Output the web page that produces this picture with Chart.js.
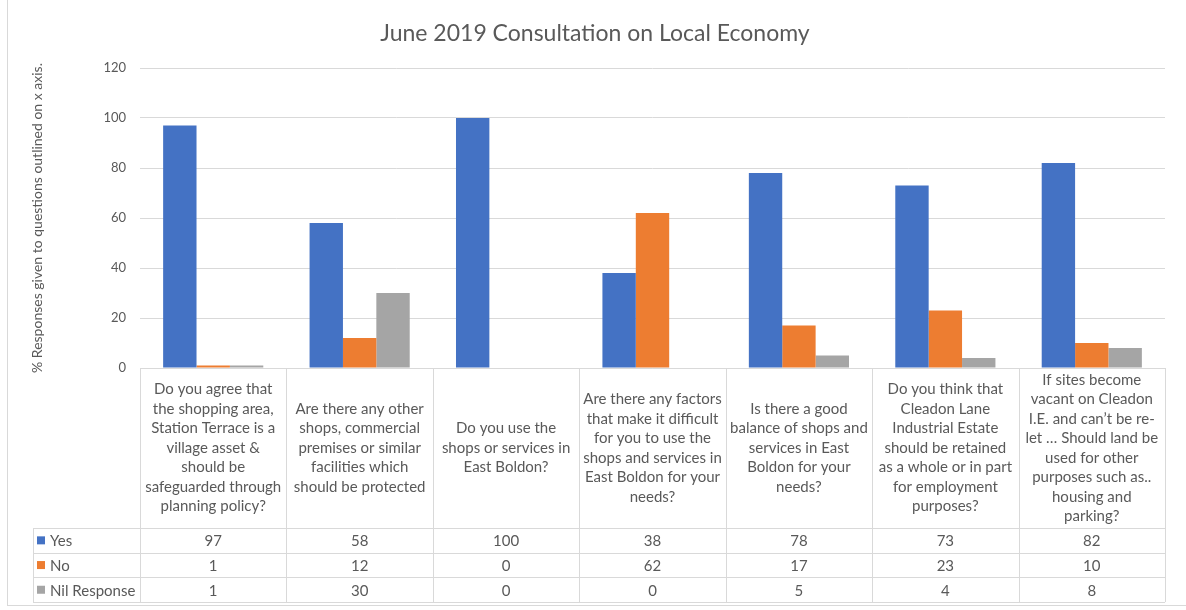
<!doctype html>
<html>
<head>
    <title>June 2019 Consultation on Local Economy</title>
    <script src="https://cdn.jsdelivr.net/npm/chart.js@4/dist/chart.umd.min.js"></script>
    <style>
        body { margin:0; background:#fff; }
        #wrap { position:relative; width:1186px; height:610px; }
        #frame { position:absolute; left:7px; top:-1px; width:1190px; height:607px; border:1px solid #D9D9D9; box-sizing:border-box; pointer-events:none; }
    </style>
</head>
<body>
    <div id="wrap">
        <canvas id="canvas" width="1186" height="610"></canvas>
        <div id="frame"></div>
    </div>
    <script>
        var categories = [
            ["Do you agree that", "the shopping area,", "Station Terrace is a", "village asset &", "should be", "safeguarded through", "planning policy?"],
            ["Are there any other", "shops, commercial", "premises or similar", "facilities which", "should be protected"],
            ["Do you use the", "shops or services in", "East Boldon?"],
            ["Are there any factors", "that make it difficult", "for you to use the", "shops and services in", "East Boldon for your", "needs?"],
            ["Is there a good", "balance of shops and", "services in East", "Boldon for your", "needs?"],
            ["Do you think that", "Cleadon Lane", "Industrial Estate", "should be retained", "as a whole or in part", "for employment", "purposes?"],
            ["If sites become", "vacant on Cleadon", "I.E. and can\u2019t be re-", "let \u2026 Should land be", "used for other", "purposes such as..", "housing and", "parking?"]
        ];
        var seriesNames = ["Yes", "No", "Nil Response"];
        var yesValues = [97, 58, 100, 38, 78, 73, 82];
        var noValues = [1, 12, 0, 62, 17, 23, 10];
        var nilValues = [1, 30, 0, 0, 5, 4, 8];
        var colors = ["#4472C4", "#ED7D31", "#A5A5A5"];
        var yTicks = [0, 20, 40, 60, 80, 100, 120];

        var fontFam = "Lato, 'Open Sans', sans-serif";
        var textCol = "#595959";
        var lineCol = "#D9D9D9";

        var tablePlugin = {
            id: 'dataTable',
            afterDraw: function(chart) {
                var ctx = chart.ctx;
                var area = chart.chartArea;
                var n = categories.length;
                var w = (area.right - area.left) / n;
                var top = area.bottom;
                var headBottom = top + 160;
                var rowH = 24.7;
                var tableLeft = 33;
                var tableBottom = headBottom + rowH * 3;
                var all = [yesValues, noValues, nilValues];
                ctx.save();
                ctx.strokeStyle = lineCol;
                ctx.lineWidth = 1;
                ctx.beginPath();
                ctx.moveTo(area.left, top + 0.5); ctx.lineTo(area.right, top + 0.5);
                for (var r = 0; r <= 3; r++) {
                    var yy = Math.round(headBottom + r * rowH) + 0.5;
                    ctx.moveTo(tableLeft, yy); ctx.lineTo(area.right, yy);
                }
                for (var i = 0; i <= n; i++) {
                    var xx = Math.round(area.left + i * w) + 0.5;
                    ctx.moveTo(xx, top); ctx.lineTo(xx, tableBottom);
                }
                ctx.moveTo(tableLeft + 0.5, headBottom); ctx.lineTo(tableLeft + 0.5, tableBottom);
                ctx.stroke();

                ctx.fillStyle = textCol;
                ctx.font = "15px " + fontFam;
                ctx.textAlign = "center";
                ctx.textBaseline = "middle";
                var lh = 19.5;
                var mid = (top + headBottom) / 2;
                for (var c = 0; c < n; c++) {
                    var cx = chart.scales.x.getPixelForValue(c);
                    var lines = categories[c];
                    var y0 = mid - (lines.length - 1) * lh / 2;
                    for (var k = 0; k < lines.length; k++) {
                        ctx.fillText(lines[k], cx, y0 + k * lh);
                    }
                    for (var s = 0; s < 3; s++) {
                        ctx.fillText(String(all[s][c]), cx, headBottom + s * rowH + rowH / 2 + 1);
                    }
                }
                ctx.textAlign = "left";
                for (var s2 = 0; s2 < 3; s2++) {
                    var ry = headBottom + s2 * rowH + rowH / 2;
                    ctx.fillStyle = colors[s2];
                    ctx.fillRect(37, ry - 4, 8, 8);
                    ctx.fillStyle = textCol;
                    ctx.fillText(seriesNames[s2], 50, ry + 1);
                }
                ctx.restore();
            }
        };

        var config = {
            type: 'bar',
            data: {
                labels: categories.map(function(c) { return c.join(" "); }),
                datasets: [
                    { label: seriesNames[0], data: yesValues, backgroundColor: colors[0] },
                    { label: seriesNames[1], data: noValues, backgroundColor: colors[1] },
                    { label: seriesNames[2], data: nilValues, backgroundColor: colors[2] }
                ]
            },
            options: {
                responsive: false,
                animation: false,
                layout: { padding: { left: 25, right: 21, top: 0, bottom: 242 } },
                datasets: { bar: { categoryPercentage: 0.684, barPercentage: 1 } },
                plugins: {
                    legend: { display: false },
                    tooltip: { enabled: false },
                    title: {
                        display: true,
                        text: 'June 2019 Consultation on Local Economy',
                        color: textCol,
                        font: { family: fontFam, size: 23, weight: 'normal' },
                        padding: { top: 20, bottom: 20.4 }
                    }
                },
                scales: {
                    x: { display: false },
                    y: {
                        min: 0, max: 120,
                        afterBuildTicks: function(scale) {
                            scale.ticks = yTicks.map(function(v) { return { value: v }; });
                        },
                        afterFit: function(scale) { scale.width = 115; },
                        border: { display: false },
                        grid: { color: lineCol, drawTicks: false },
                        ticks: { color: textCol, padding: 14, font: { family: fontFam, size: 13 } },
                        title: {
                            display: true,
                            text: '% Responses given to questions outlined on x axis.',
                            color: textCol,
                            font: { family: fontFam, size: 14 }
                        }
                    }
                }
            },
            plugins: [tablePlugin]
        };

        window.onload = function() {
            var ctx = document.getElementById("canvas").getContext("2d");
            window.myBar = new Chart(ctx, config);
        };
    </script>
</body>
</html>
